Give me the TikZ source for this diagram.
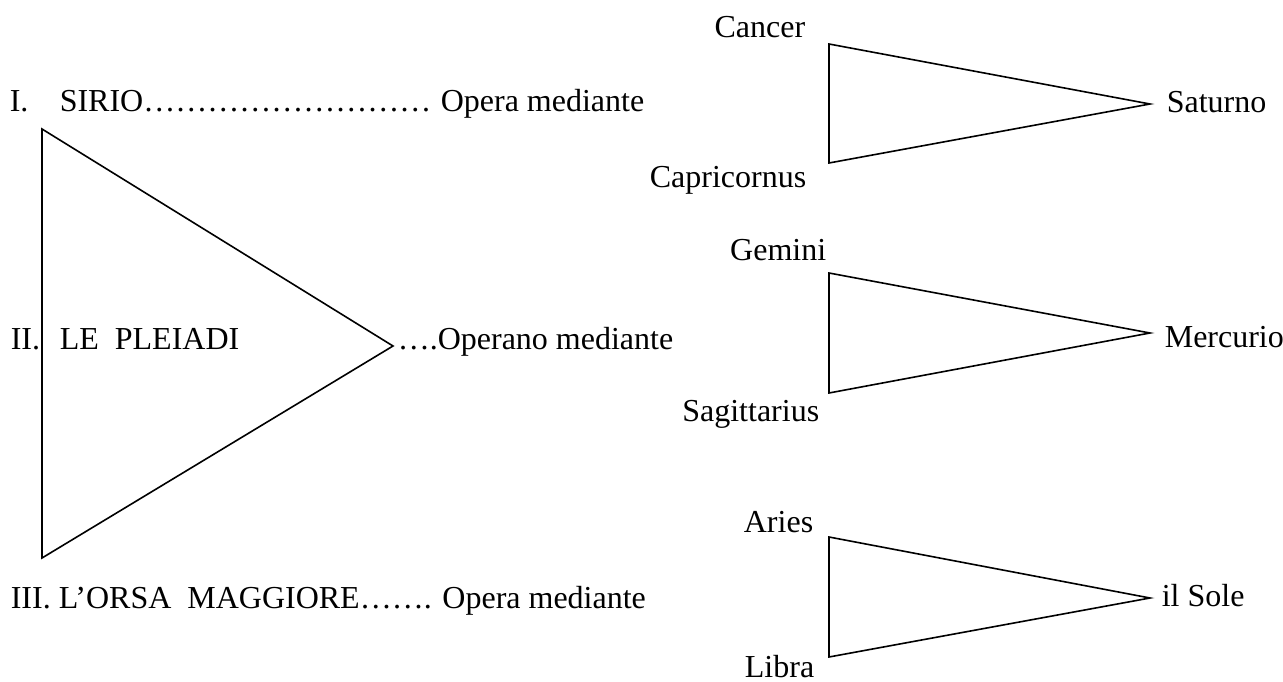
\documentclass[tikz,border=0pt]{standalone}
\usepackage{fontspec}
\setmainfont{Liberation Serif}
\begin{document}
\begin{tikzpicture}[
          x=1pt, y=-1pt, line width=1.6pt, line join=miter,
          every node/.style={inner sep=0pt, font=\fontsize{32}{38}\selectfont},
          lft/.style={anchor=base west},
          rgt/.style={anchor=base east}
    ]
      \useasboundingbox (0,0) rectangle (1283,682);

      % left column: the three stars
      \node[lft] (num1) at (9,112) {I.};
      \node[lft] (star1) at (59,112) {SIRIO………………………};
      \node[lft] (op1) at (440,112) {Opera mediante};

      \node[lft] (num2) at (10,349) {II.};
      \node[lft] (star2) at (59,349) {LE\ \ PLEIADI};
      \node[lft] (op2) at (397,349) {….Operano mediante};

      \node[lft] (num3) at (10,608) {III. L’ORSA\ \ MAGGIORE……. Opera mediante};

      \coordinate (bigtop) at (42,129);
      \coordinate (bigbot) at (42,558);
      \coordinate (bigtip) at (393,346);
      \draw (bigtop) -- (bigtip) -- (bigbot) -- cycle;

      % right column: signs and planets
      \begin{scope}
        \coordinate (t1a) at (829,44);
        \coordinate (t1b) at (829,163);
        \coordinate (t1c) at (1150,104);
        \draw (t1a) -- (t1c) -- (t1b) -- cycle;
        \node[rgt] (cancer) at (806,38) {Cancer};
        \node[rgt] (capri) at (807,187) {Capricornus};
        \node[lft] (saturno) at (1166,113) {Saturno};
      \end{scope}

      \begin{scope}
        \coordinate (t2a) at (829,273);
        \coordinate (t2b) at (829,393);
        \coordinate (t2c) at (1150,333);
        \draw (t2a) -- (t2c) -- (t2b) -- cycle;
        \node[rgt] (gemini) at (827,260) {Gemini};
        \node[rgt] (sagit) at (820,421) {Sagittarius};
        \node[lft] (mercurio) at (1164,347) {Mercurio};
      \end{scope}

      \begin{scope}
        \coordinate (t3a) at (829,537);
        \coordinate (t3b) at (829,657);
        \coordinate (t3c) at (1150,598);
        \draw (t3a) -- (t3c) -- (t3b) -- cycle;
        \node[rgt] (aries) at (814,532) {Aries};
        \node[rgt] (libra) at (815,677) {Libra};
        \node[lft] (sole) at (1161,606) {il Sole};
      \end{scope}

\end{tikzpicture}
\end{document}
